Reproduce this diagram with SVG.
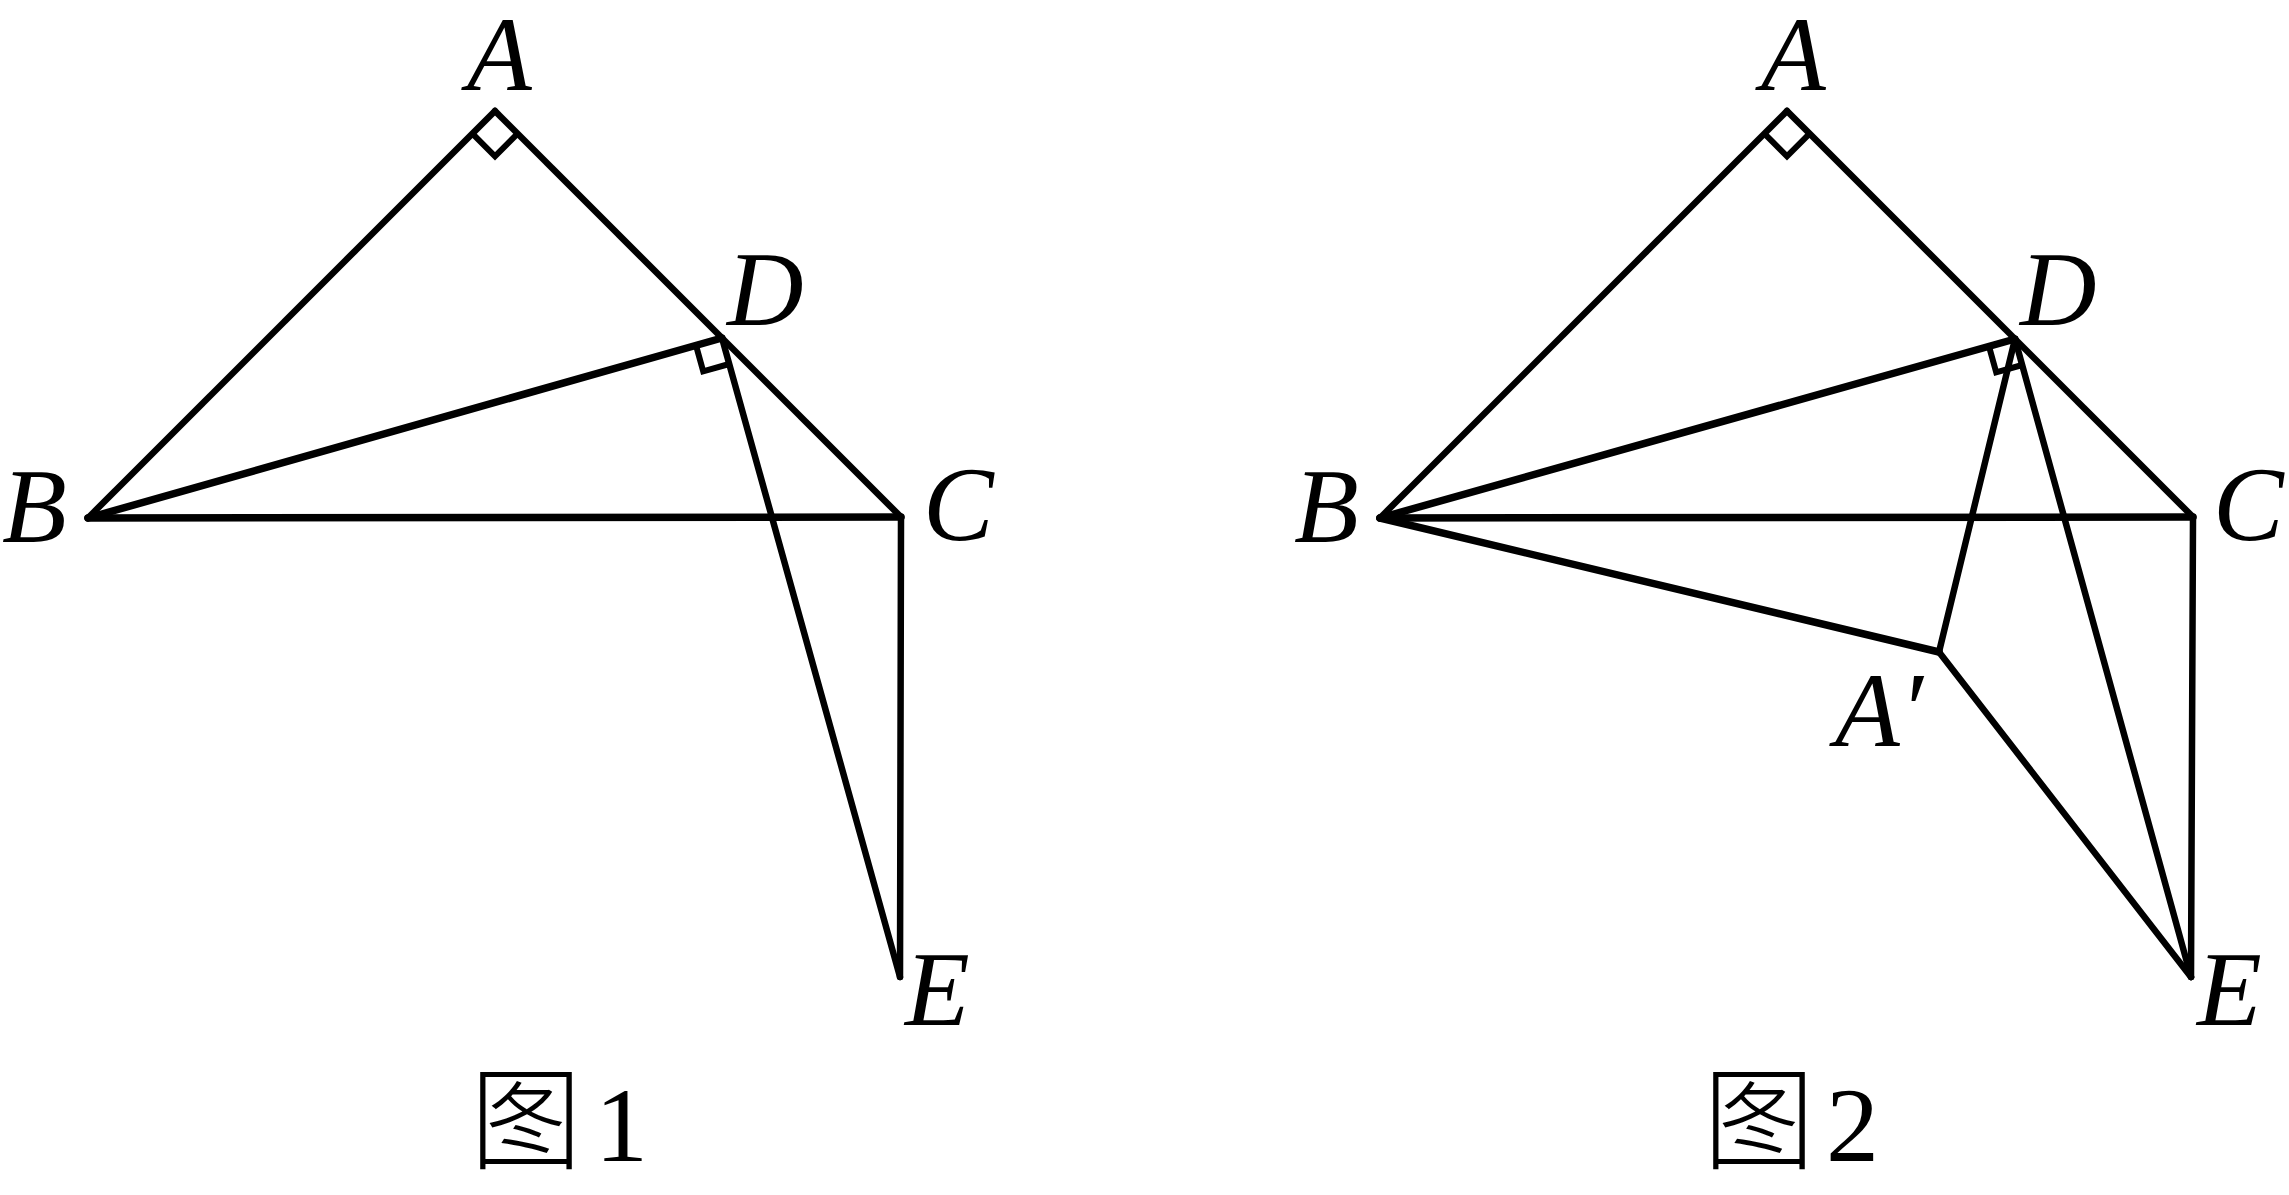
<svg xmlns="http://www.w3.org/2000/svg" width="2289" height="1195" viewBox="0 0 2289 1195">
<style>
.ln{stroke:#000;stroke-width:6.5;stroke-linecap:round;stroke-linejoin:round;fill:none}
.bold{stroke-width:7.5}
.mk{stroke:#000;stroke-width:6;fill:none;stroke-linejoin:miter}
.lb{font-family:"Liberation Serif","Times New Roman",serif;font-style:italic;font-size:106px;fill:#000}
.cap{font-family:"Liberation Serif","Times New Roman",serif;font-size:106px;fill:#000}
.cjk{font-family:"Noto Sans CJK SC","Noto Sans CJK TC",sans-serif;font-weight:300;font-size:112px}
</style>
<rect width="2289" height="1195" fill="#fff"/>
<g id="connectors">
<g id="fig1-lines">
<line class="ln" x1="495" y1="111" x2="88" y2="518"/>
<line class="ln" x1="495" y1="111" x2="901" y2="517"/>
<line class="ln bold" x1="88" y1="518" x2="901" y2="517"/>
<line class="ln bold" x1="88" y1="518" x2="722" y2="338"/>
<line class="ln" x1="722" y1="338" x2="900" y2="977"/>
<line class="ln" x1="901" y1="517" x2="900" y2="977"/>
<polyline class="mk" points="472.4,133.6 495,156.3 517.6,133.6"/>
<polyline class="mk" points="696,345.4 703.2,371.4 729.2,364"/>
</g>
<g id="fig2-lines">
<line class="ln" x1="1787" y1="111" x2="1380" y2="518"/>
<line class="ln" x1="1787" y1="111" x2="2193" y2="517"/>
<line class="ln bold" x1="1380" y1="518" x2="2193" y2="517"/>
<line class="ln bold" x1="1380" y1="518" x2="2015" y2="339"/>
<line class="ln bold" x1="1380" y1="518" x2="1939" y2="652"/>
<line class="ln" x1="1939" y1="652" x2="2015" y2="339"/>
<line class="ln" x1="1939" y1="652" x2="2191" y2="977"/>
<line class="ln" x1="2015" y1="339" x2="2191" y2="977"/>
<line class="ln" x1="2193" y1="517" x2="2191" y2="977"/>
<polyline class="mk" points="1764.4,133.6 1787,156.3 1809.6,133.6"/>
<polyline class="mk" points="1989,346.4 1996.2,372.4 2022.2,365"/>
</g>
</g>
<g id="node-A1"><text class="lb" x="467" y="90">A</text></g>
<g id="node-B1"><text class="lb" x="2" y="542">B</text></g>
<g id="node-C1"><text class="lb" x="923" y="540">C</text></g>
<g id="node-D1"><text class="lb" x="727" y="325">D</text></g>
<g id="node-E1"><text class="lb" x="905" y="1025">E</text></g>
<g id="node-A2"><text class="lb" x="1761" y="90">A</text></g>
<g id="node-B2"><text class="lb" x="1294" y="542">B</text></g>
<g id="node-C2"><text class="lb" x="2213" y="540">C</text></g>
<g id="node-D2"><text class="lb" x="2020" y="325">D</text></g>
<g id="node-E2"><text class="lb" x="2197" y="1025">E</text></g>
<g id="node-A-prime"><text class="lb" x="1835" y="746">A′</text></g>
<g id="caption1"><text class="cap" x="470" y="1161"><tspan class="cjk">图</tspan><tspan x="595">1</tspan></text></g>
<g id="caption2"><text class="cap" x="1703" y="1161"><tspan class="cjk">图</tspan><tspan x="1826">2</tspan></text></g>
</svg>
